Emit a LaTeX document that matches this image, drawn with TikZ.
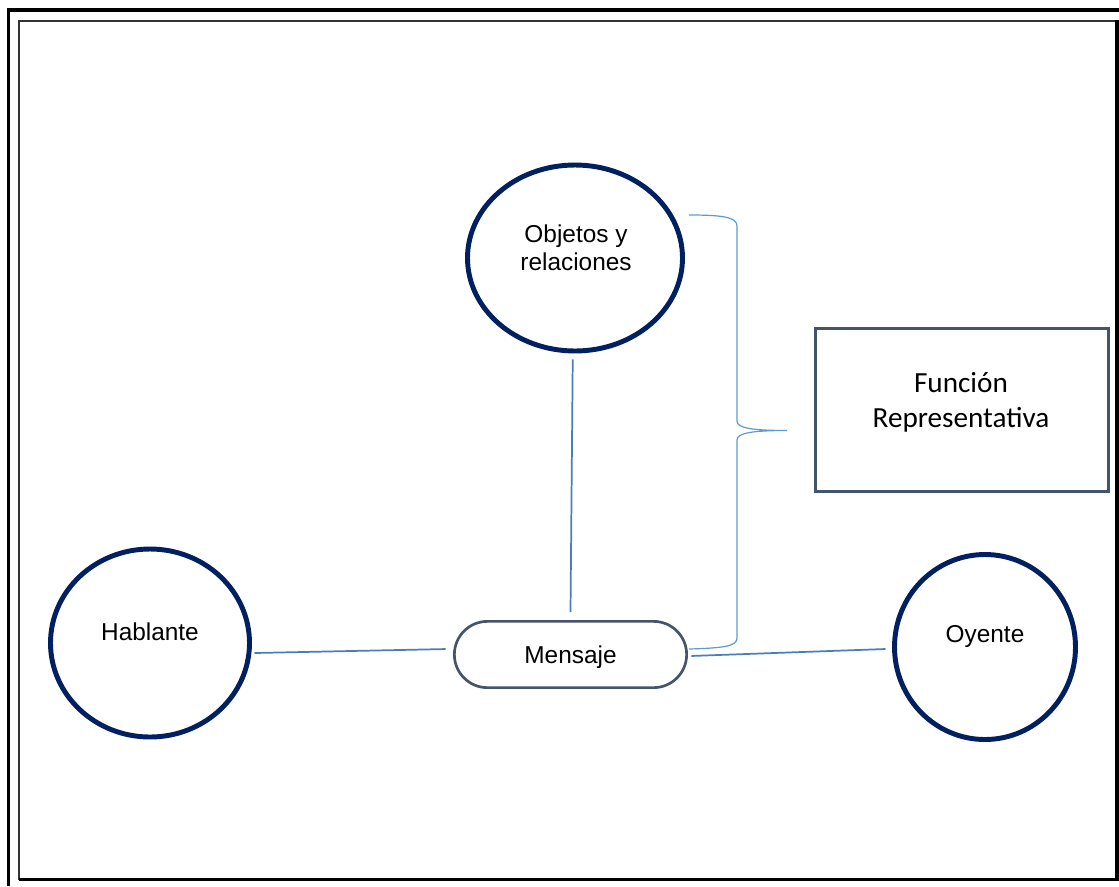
\documentclass[tikz,border=0pt]{standalone}
\usepackage{fontspec}
\setmainfont{Liberation Sans}
\newfontfamily\calibrifont{Carlito}
\usetikzlibrary{shapes.geometric}
\definecolor{navy}{HTML}{002060}
\definecolor{slate}{HTML}{44546A}
\definecolor{conn}{HTML}{4A7EBB}
\definecolor{bracecol}{HTML}{5B9BD5}
\tikzset{
  bubble/.style={ellipse, draw=navy, line width=3.7pt, fill=white, inner sep=0pt},
  lbl/.style={font=\fontsize{18.3}{21}\selectfont, align=center, inner sep=0pt},
  msgbox/.style={draw=slate, line width=2pt, rounded corners=24.8pt, fill=white,
    minimum width=174.2pt, minimum height=49.7pt, inner sep=0pt, text depth=0pt,
    font=\fontsize{18.3}{21}\selectfont},
  funcbox/.style={draw=slate, line width=2pt, fill=white,
    minimum width=220pt, minimum height=122.5pt, inner sep=0pt},
  link/.style={draw=conn, line width=1.3pt},
  bracestyle/.style={draw=bracecol, line width=0.9pt}
}
\begin{document}
\begin{tikzpicture}[x=0.75pt, y=-0.75pt]
\useasboundingbox (0,0) rectangle (1119,886);
% frames
\draw[black, line width=2.6pt] (8.5,886) -- (8.5,10) -- (1119,10);
\draw[black!80, line width=1.5pt] (19,879.5) -- (19,21) -- (1117,21);
\draw[black, line width=2.6pt] (1117,20) -- (1117,879.5) -- (18.5,879.5);
% nodes
\node[bubble, minimum width=161.25pt, minimum height=139.5pt] (obj) at (575,258) {};
\node[lbl] (objt) at (576,248) {Objetos y\\relaciones};
\node[bubble, minimum width=149.25pt, minimum height=141pt] (hab) at (150,643) {};
\node[lbl] (habt) at (150,631.5) {Hablante};
\node[bubble, minimum width=135.75pt, minimum height=138.75pt] (oye) at (985,647) {};
\node[lbl] (oyet) at (985,636) {Oyente};
\node[msgbox] (men) at (570.5,654.5) {Mensaje};
\node[funcbox] (fun) at (962,410) {};
\node[font=\calibrifont\fontsize{21.9}{26.25}\selectfont, align=center, inner sep=0pt] (funt) at (961,402) {Función\\Representativa};
% connectors
\draw[link] ([xshift=-1.7pt, yshift=-4.5pt]obj.south) -- ([yshift=6pt]men.north);
\draw[link] ([xshift=1.9pt, yshift=-7.5pt]hab.east) -- ([xshift=-5.5pt, yshift=4.1pt]men.west);
\draw[link] ([xshift=2.5pt, yshift=-1.1pt]men.east) -- ([xshift=-4.9pt, yshift=-1.5pt]oye.west);
% brace
\coordinate (btop) at (689,215);
\coordinate (bbot) at (689,649);
\coordinate (btip) at (787,430.5);
\draw[bracestyle] (btop) .. controls (722,215) and (737,217) .. (737,226)
  -- (737,421) .. controls (737,428) and (752,430.5) .. (btip)
  .. controls (752,430.5) and (737,433) .. (737,440)
  -- (737,638) .. controls (737,646) and (725,648) .. (bbot);
\end{tikzpicture}
\end{document}
